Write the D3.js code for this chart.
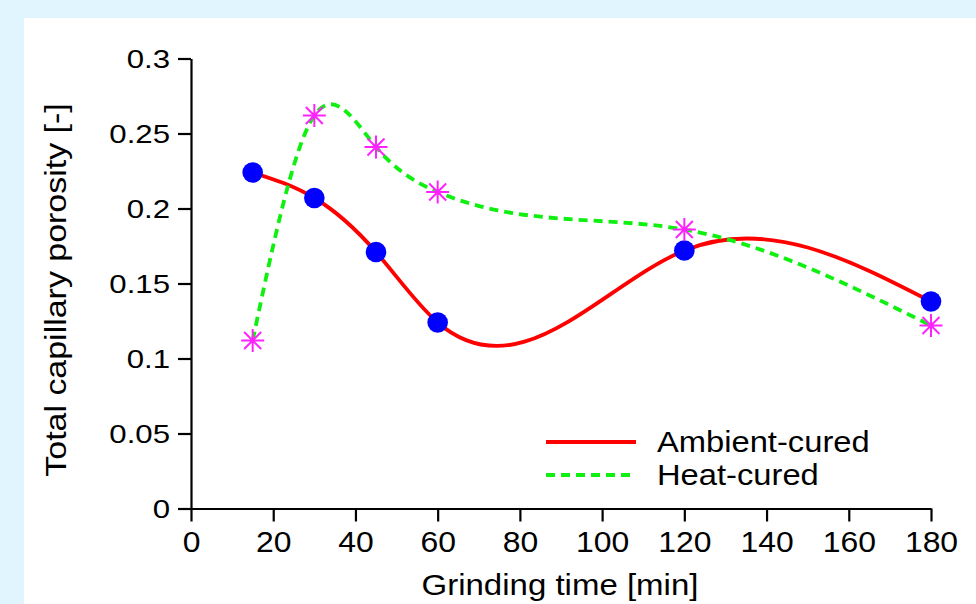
<!DOCTYPE html>
<html>
<head>
<meta charset="utf-8">
<script src="https://cdn.jsdelivr.net/npm/d3@7"></script>
<style>
  body { margin: 0; background: #e0f5fd; }
  svg { display: block; }
</style>
</head>
<body>
<div id="chart"></div>
<script>
// ---- data ----
var grindTime = [15, 30, 45, 60, 120, 180];
var ambientCured = [0.224, 0.207, 0.171, 0.124, 0.172, 0.138];
var heatCured = [0.112, 0.262, 0.241, 0.211, 0.186, 0.122];
var xTicks = [0, 20, 40, 60, 80, 100, 120, 140, 160, 180];
var yTicks = [0, 0.05, 0.1, 0.15, 0.2, 0.25, 0.3];
var seriesNames = ["Ambient-cured", "Heat-cured"];

// natural cubic spline y(x) as a d3 curve (the plot uses a spline in x, not a parametric one)
function NaturalX(context) { this._context = context; }
NaturalX.prototype = {
  areaStart: function() {}, areaEnd: function() {},
  lineStart: function() { this._x = []; this._y = []; },
  point: function(x, y) { this._x.push(+x); this._y.push(+y); },
  lineEnd: function() {
    var x = this._x, y = this._y, n = x.length, ctx = this._context;
    if (!n) return;
    ctx.moveTo(x[0], y[0]);
    if (n < 3) { if (n === 2) ctx.lineTo(x[1], y[1]); return; }
    var h = [], d = [], i;
    for (i = 0; i < n - 1; i++) { h[i] = x[i + 1] - x[i]; d[i] = (y[i + 1] - y[i]) / h[i]; }
    // tridiagonal system for second derivatives, M[0] = M[n-1] = 0
    var a = [], b = [], c = [], r = [], M = new Array(n).fill(0);
    for (i = 1; i < n - 1; i++) {
      a[i] = h[i - 1]; b[i] = 2 * (h[i - 1] + h[i]); c[i] = h[i]; r[i] = 6 * (d[i] - d[i - 1]);
    }
    for (i = 2; i < n - 1; i++) {
      var m = a[i] / b[i - 1];
      b[i] -= m * c[i - 1]; r[i] -= m * r[i - 1];
    }
    for (i = n - 2; i >= 1; i--) M[i] = (r[i] - (i < n - 2 ? c[i] * M[i + 1] : 0)) / b[i];
    for (i = 0; i < n - 1; i++) {
      var s0 = d[i] - h[i] * (2 * M[i] + M[i + 1]) / 6;
      var s1 = d[i] + h[i] * (M[i] + 2 * M[i + 1]) / 6;
      ctx.bezierCurveTo(x[i] + h[i] / 3, y[i] + s0 * h[i] / 3,
                        x[i + 1] - h[i] / 3, y[i + 1] - s1 * h[i] / 3,
                        x[i + 1], y[i + 1]);
    }
  }
};
function curveNaturalX(context) { return new NaturalX(context); }

// stretch glyphs a bit wider, the source font is wider than Liberation Sans
function widen(sel, k) {
  sel.each(function() {
    var len = this.getComputedTextLength();
    d3.select(this).attr("textLength", len * k).attr("lengthAdjust", "spacingAndGlyphs");
  });
}

// ---- chart setup ----
var svgWidth = 976;
var svgHeight = 604;
var font = "'Liberation Sans', Arial, Helvetica, sans-serif";

var svg = d3.select("#chart").append("svg").attr("width", svgWidth).attr("height", svgHeight);

// white panel
svg.append("rect").attr("x", 24).attr("y", 18).attr("width", svgWidth - 24).attr("height", svgHeight - 18).attr("fill", "#fff");

var xScale = d3.scaleLinear().domain([0, 180]).range([191, 931]);
var yScale = d3.scaleLinear().domain([0, 0.3]).range([508.5, 58.5]);

// ---- axes ----
var xAxis = d3.axisBottom(xScale).tickValues(xTicks).tickSize(13).tickSizeOuter(0).tickPadding(10);
var yAxis = d3.axisLeft(yScale).tickValues(yTicks).tickSize(13).tickSizeOuter(0).tickPadding(8).tickFormat(d3.format("~g"));

var gx = svg.append("g").attr("transform", "translate(0," + yScale(0) + ")").call(xAxis);
var gy = svg.append("g").attr("transform", "translate(" + xScale(0) + ",0)").call(yAxis);

[gx, gy].forEach(function(g) {
  g.selectAll("path, line").attr("stroke", "#000").attr("stroke-width", 2.2);
  g.selectAll("text").attr("font-family", font).attr("fill", "#000");
});
gx.selectAll("text").attr("font-size", "29px").call(widen, 1.1);
gy.selectAll("text").attr("font-size", "26px").attr("dy", "0.36em").call(widen, 1.2);

// ---- lines ----
var line = d3.line()
  .x(function(d, i) { return xScale(grindTime[i]); })
  .y(function(d) { return yScale(d); })
  .curve(curveNaturalX);

svg.append("path").datum(ambientCured)
  .attr("d", line).attr("fill", "none").attr("stroke", "#ff0000").attr("stroke-width", 3.8);

svg.append("path").datum(heatCured)
  .attr("d", line).attr("fill", "none").attr("stroke", "#10f010").attr("stroke-width", 3.8)
  .attr("stroke-dasharray", "9,6");

// ---- markers ----
svg.append("g").selectAll("circle")
  .data(ambientCured)
  .enter()
  .append("circle")
  .attr("cx", function(d, i) { return xScale(grindTime[i]); })
  .attr("cy", function(d) { return yScale(d); })
  .attr("r", 10.3)
  .attr("fill", "#0000ff");

var star = "M0,-11.5V11.5M-11.5,0H11.5M-8.5,-8.5L8.5,8.5M-8.5,8.5L8.5,-8.5";
svg.append("g").selectAll("path")
  .data(heatCured)
  .enter()
  .append("path")
  .attr("transform", function(d, i) { return "translate(" + xScale(grindTime[i]) + "," + yScale(d) + ")"; })
  .attr("d", star)
  .attr("stroke", "#ff22ff")
  .attr("stroke-width", 2)
  .attr("fill", "none");

// ---- legend ----
var legend = svg.append("g");
legend.append("line").attr("x1", 546).attr("x2", 636).attr("y1", 442).attr("y2", 442)
  .attr("stroke", "#ff0000").attr("stroke-width", 3.8);
legend.append("line").attr("x1", 546).attr("x2", 636).attr("y1", 475).attr("y2", 475)
  .attr("stroke", "#10f010").attr("stroke-width", 3.8).attr("stroke-dasharray", "9,6");
legend.selectAll("text")
  .data(seriesNames)
  .enter()
  .append("text")
  .attr("x", 657)
  .attr("y", function(d, i) { return 452 + i * 33; })
  .attr("font-family", font)
  .attr("font-size", "30px")
  .text(function(d) { return d; })
  .call(widen, 1.09);

// ---- axis titles ----
svg.append("text")
  .attr("x", 560)
  .attr("y", 595)
  .attr("text-anchor", "middle")
  .attr("font-family", font)
  .attr("font-size", "30px")
  .text("Grinding time [min]")
  .call(widen, 1.1);

svg.append("text")
  .attr("transform", "translate(66,290) rotate(-90)")
  .attr("text-anchor", "middle")
  .attr("font-family", font)
  .attr("font-size", "29px")
  .text("Total capillary porosity [-]")
  .call(widen, 1.17);
</script>
</body>
</html>
